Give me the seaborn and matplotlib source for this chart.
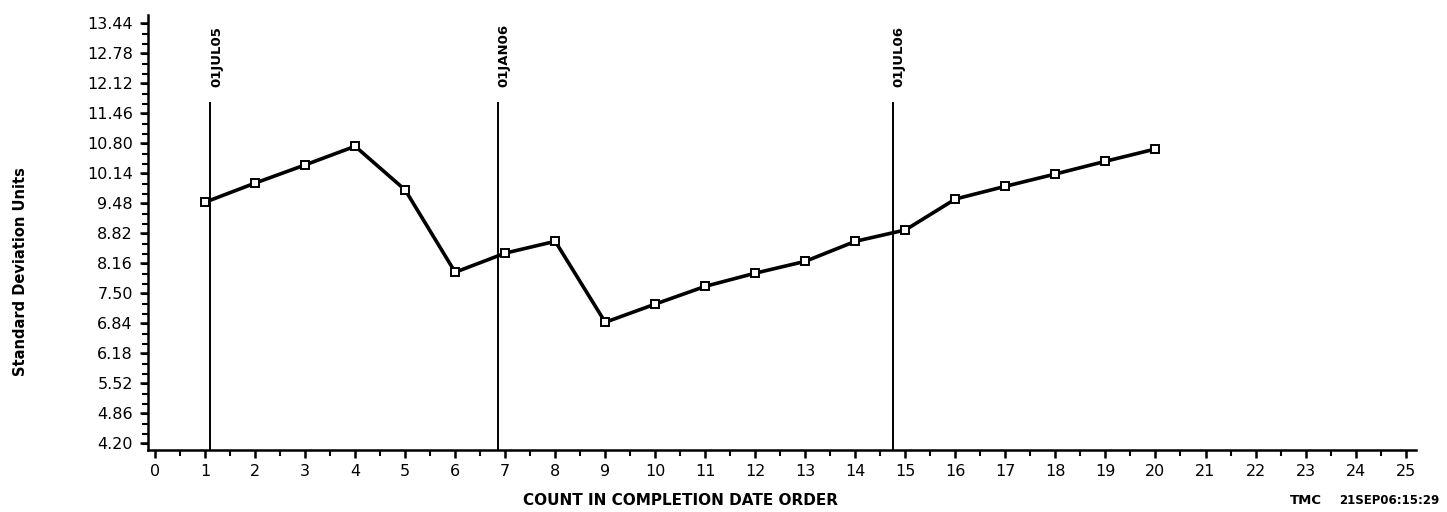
import numpy as np
import pandas as pd
import matplotlib
matplotlib.use("Agg")
import matplotlib.pyplot as plt
import matplotlib.ticker as ticker
import seaborn as sns

# Values
counts = list(range(1, 21))
sd_units = [9.50, 9.92, 10.32, 10.73, 9.77, 7.96, 8.38, 8.64, 6.86, 7.26,
            7.65, 7.94, 8.20, 8.64, 8.89, 9.57, 9.85, 10.12, 10.40, 10.67]

event_x = [1.1, 6.85, 14.75]
event_labels = ["01JUL05", "01JAN06", "01JUL06"]
event_top = 11.70

y_ticks = [4.20, 4.86, 5.52, 6.18, 6.84, 7.50, 8.16, 8.82, 9.48, 10.14,
           10.80, 11.46, 12.12, 12.78, 13.44]
x_ticks = list(range(0, 26))

df = pd.DataFrame({"count": counts, "sd": sd_units})

sns.set_style("ticks")
plt.rcParams["font.family"] = ["DejaVu Sans"]
plt.rcParams["text.color"] = "black"
plt.rcParams["axes.labelcolor"] = "black"

fig = plt.figure(figsize=(14.47, 5.12), dpi=100)
ax = fig.add_axes([0.1023, 0.121, 0.876, 0.850])

sns.lineplot(data=df, x="count", y="sd", ax=ax, color="black", linewidth=2.6,
             marker="s", markersize=6, markerfacecolor="white",
             markeredgecolor="black", markeredgewidth=1.4)

ylo, yhi = 4.05, 13.62
ax.vlines(event_x, ylo, event_top, color="black", linewidth=1.4)
for xv, lab in zip(event_x, event_labels):
    ax.annotate(lab, xy=(xv, event_top), xytext=(0, 11), textcoords="offset points",
                rotation=90, ha="left", va="bottom", fontsize=9.5,
                fontweight="bold", color="black")

ax.set_xlim(-0.14, 25.2)
ax.set_ylim(ylo, yhi)
ax.set_xticks(x_ticks)
ax.set_xticklabels([str(v) for v in x_ticks])
ax.xaxis.set_minor_locator(ticker.MultipleLocator(0.5))
ax.set_yticks(y_ticks)
ax.set_yticklabels([f"{v:.2f}" for v in y_ticks])
ax.yaxis.set_minor_locator(ticker.MultipleLocator(0.22))

for s in ["top", "right"]:
    ax.spines[s].set_visible(False)
for s in ["left", "bottom"]:
    ax.spines[s].set_linewidth(1.8)
    ax.spines[s].set_color("black")

ax.tick_params(axis="both", which="major", length=6, width=1.8, labelsize=11.5,
               colors="black", direction="out")
ax.tick_params(axis="both", which="minor", length=4, width=1.5, direction="out",
               colors="black")
ax.tick_params(axis="x", pad=4)
ax.tick_params(axis="y", pad=5)

ax.set_xlabel("")
ax.set_ylabel("")
fig.text(0.47, 0.0234, "COUNT IN COMPLETION DATE ORDER", ha="center", va="center",
         fontsize=11, fontweight="bold")
fig.text(0.014, 0.47, "Standard Deviation Units", rotation=90, ha="center",
         va="center", fontsize=10.5, fontweight="bold")
fig.text(0.9136, 0.0234, "TMC", ha="right", va="center", fontsize=9.5,
         fontweight="bold")
fig.text(0.995, 0.0234, "21SEP06:15:29", ha="right", va="center", fontsize=8.5,
         fontweight="bold")

fig.savefig("out.png", dpi=100)
